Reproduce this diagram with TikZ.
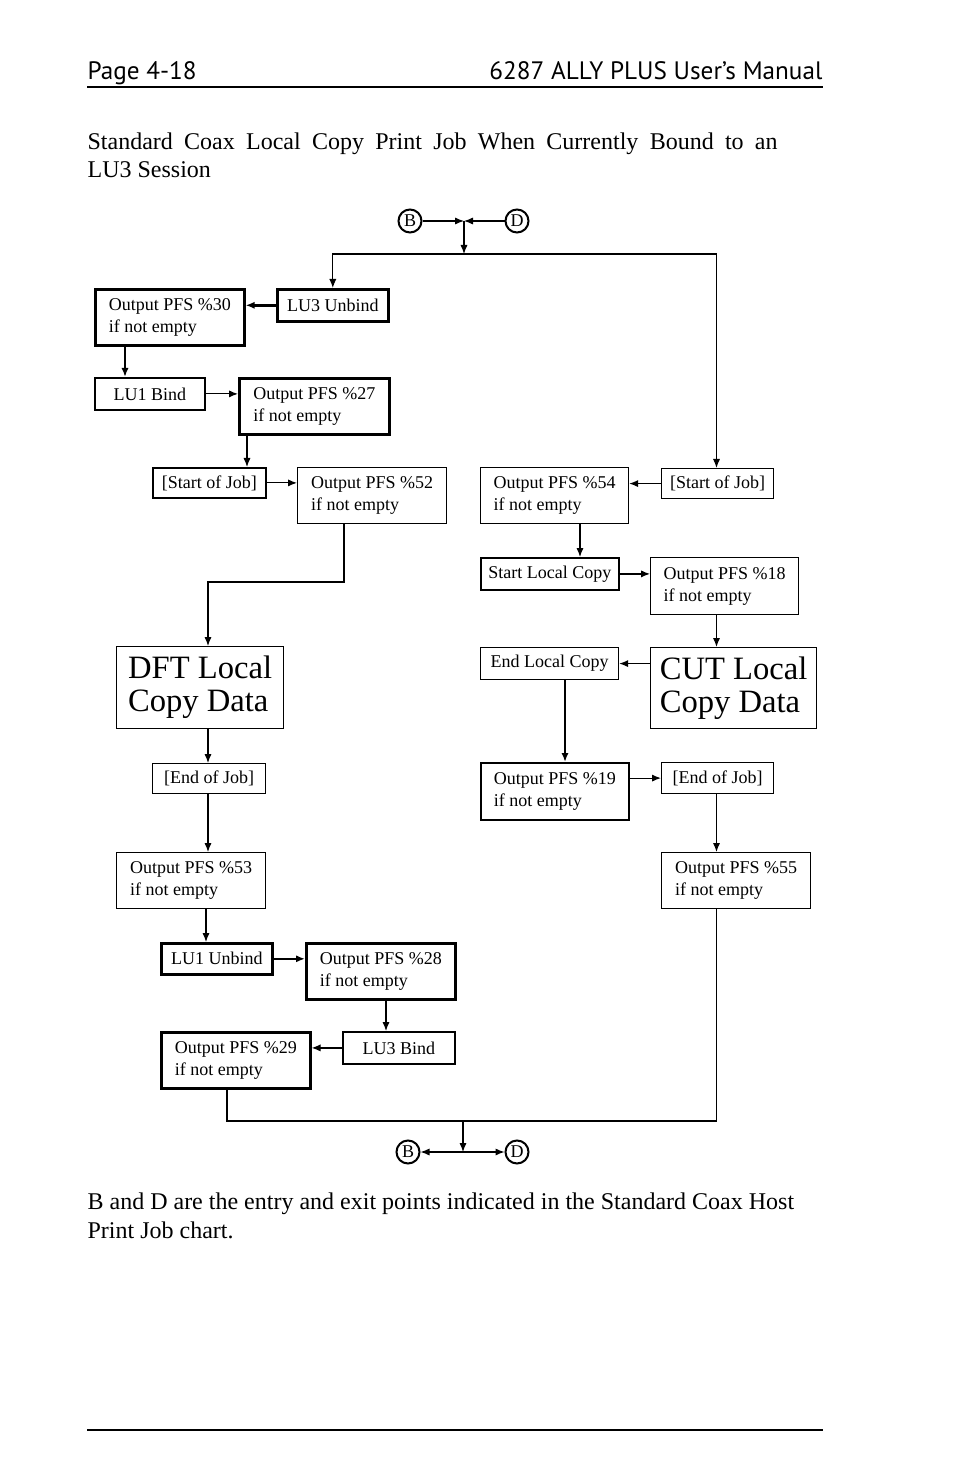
\documentclass[tikz,border=0pt]{standalone}
\usepackage{fontspec}
\setmainfont{Liberation Serif}
\newfontfamily\headfont{PT Sans}
\usetikzlibrary{positioning, arrows.meta}

\tikzset{
  blk/.style={draw, line width=0.6pt, align=left, inner sep=2pt,
    font=\fontsize{9}{11}\selectfont, anchor=north west},
  pfs/.style={blk, minimum width=74.5pt, minimum height=28pt},
  tag/.style={blk, align=center, minimum height=16pt},
  big/.style={blk, font=\fontsize{16.3}{16.5}\selectfont, minimum width=83.5pt, minimum height=41pt},
  mid/.style={line width=0.9pt},
  heavy/.style={line width=1.3pt},
  pt/.style={circle, draw, line width=1pt, minimum size=11.5pt, inner sep=0pt,
    font=\fontsize{9}{9}\selectfont},
  bodytext/.style={anchor=base west, inner sep=0pt, font=\fontsize{12}{14.5}\selectfont},
  headtext/.style={inner sep=0pt, font=\headfont\fontsize{12.6}{14}\selectfont}
}

\begin{document}
\begin{tikzpicture}[x=0.5pt, y=-0.5pt, >={Latex[length=4.5pt,width=3.6pt]}, line width=0.6pt]
\useasboundingbox (0,0) rectangle (954,1475);

% page head and caption
\node[headtext, anchor=base west] (page) at (87,80) {Page 4-18};
\node[headtext, anchor=base east] (manual) at (823,80) {6287 ALLY PLUS User’s Manual};
\draw (87,87) -- (823,87);
\node[bodytext] (cap1) at (87,150) {\makebox[345pt][s]{Standard Coax Local Copy Print Job When Currently Bound to an}};
\node[bodytext] (cap2) at (87,178) {LU3 Session};

% entry points
\node[pt] (bin) at (410,221) {B};
\node[pt] (din) at (517,221) {D};
\coordinate (jtop) at (464,221);
\coordinate (ttop) at (464,254);

% left column
\node[pfs, heavy] (out30) at (94,288) {Output PFS \%30\\if not empty};
\node[tag, heavy, minimum width=55.5pt] (lu3unbind) at (276,288) {LU3 Unbind};
\node[tag, mid, minimum width=55pt] (lu1bind) at (94,377) {LU1 Bind};
\node[pfs, heavy, minimum width=75pt] (out27) at (238,377) {Output PFS \%27\\if not empty};
\node[tag, mid, minimum width=56.5pt, minimum height=15pt] (startL) at (152,467) {[Start of Job]};
\node[pfs] (out52) at (297,467) {Output PFS \%52\\if not empty};
\node[big] (dft) at (116,646) {DFT Local\\Copy Data};
\node[tag, minimum width=56.5pt, minimum height=15pt] (endL) at (152,763) {[End of Job]};
\node[pfs] (out53) at (116,852) {Output PFS \%53\\if not empty};
\node[tag, heavy, minimum width=55.5pt, minimum height=15.5pt] (lu1unbind) at (160,942) {LU1 Unbind};
\node[pfs, heavy] (out28) at (305,942) {Output PFS \%28\\if not empty};
\node[tag, mid, minimum width=56pt] (lu3bind) at (342,1031) {LU3 Bind};
\node[pfs, heavy] (out29) at (160,1031) {Output PFS \%29\\if not empty};

% right column
\node[tag, minimum width=56pt, minimum height=15pt] (startR) at (661,468) {[Start of Job]};
\node[pfs, minimum width=74pt] (out54) at (480,467) {Output PFS \%54\\if not empty};
\node[tag, mid, minimum width=69pt] (startcopy) at (480,557) {Start Local Copy};
\node[pfs, minimum width=74pt, minimum height=28.5pt] (out18) at (650,557) {Output PFS \%18\\if not empty};
\node[big, minimum width=83pt, minimum height=40.5pt] (cut) at (650,647) {CUT Local\\Copy Data};
\node[tag, minimum width=69pt] (endcopy) at (480,647) {End Local Copy};
\node[pfs, mid, minimum width=74pt, minimum height=28.5pt] (out19) at (480,762) {Output PFS \%19\\if not empty};
\node[tag, minimum width=56pt, minimum height=15.5pt] (endR) at (661,762) {[End of Job]};
\node[pfs] (out55) at (661,852) {Output PFS \%55\\if not empty};

% columns for the vertical links
\coordinate (xa) at (125,0);
\coordinate (xb) at (247,0);
\coordinate (xc) at (208,0);
\coordinate (xd) at (344,0);
\coordinate (xe) at (227,0);
\coordinate (xf) at (206,0);
\coordinate (xg) at (386,0);
\coordinate (xh) at (580,0);
\coordinate (xi) at (565,0);
\coordinate (xr) at (716.5,0);
\coordinate (bend) at (208,582);

% exit points
\coordinate (tbot) at (463,1121);
\coordinate (jbot) at (463,1152);
\node[pt] (bout) at (408,1152) {B};
\node[pt] (dout) at (517,1152) {D};

% links
\draw[->] (bin) -- (jtop);
\draw[->] (din) -- (jtop);
\draw[->] (jtop) -- (ttop);
\draw[->] (ttop) -| (lu3unbind.north);
\draw[->] (ttop) -| (startR.north -| xr);

\draw[->, heavy] (lu3unbind.west) -- (lu3unbind.west -| out30.east);
\draw[->, mid] (out30.south -| xa) -- (lu1bind.north -| xa);
\draw[->] (lu1bind.east) -- (lu1bind.east -| out27.west);
\draw[->] (out27.south -| xb) -- (startL.north -| xb);
\draw[->] (startL.east) -- (startL.east -| out52.west);
\draw[->] (out52.south -| xd) |- (bend) -- (dft.north -| bend);
\draw[->] (dft.south -| xc) -- (endL.north -| xc);
\draw[->] (endL.south -| xc) -- (out53.north -| xc);
\draw[->] (out53.south -| xf) -- (lu1unbind.north -| xf);
\draw[->, heavy] (lu1unbind.east) -- (lu1unbind.east -| out28.west);
\draw[->] (out28.south -| xg) -- (lu3bind.north -| xg);
\draw[->] (lu3bind.west) -- (lu3bind.west -| out29.east);

\draw[->] (startR.west) -- (startR.west -| out54.east);
\draw[->] (out54.south -| xh) -- (startcopy.north -| xh);
\draw[->] (startcopy.east) -- (startcopy.east -| out18.west);
\draw[->] (out18.south -| xr) -- (cut.north -| xr);
\draw[->] (endcopy.east -| cut.west) -- (endcopy.east);
\draw[->, heavy] (endcopy.south -| xi) -- (out19.north -| xi);
\draw[->] (endR.west -| out19.east) -- (endR.west);
\draw[->] (endR.south -| xr) -- (out55.north -| xr);

\draw (out29.south -| xe) |- (xr |- tbot) -- (out55.south -| xr);
\draw[->] (tbot) -- (jbot);
\draw[->] (jbot) -- (bout);
\draw[->] (jbot) -- (dout);

% note and foot
\node[bodytext] (note1) at (87,1209) {B and D are the entry and exit points indicated in the Standard Coax Host};
\node[bodytext] (note2) at (87,1238) {Print Job chart.};
\draw (87,1430) -- (823,1430);
\end{tikzpicture}
\end{document}
